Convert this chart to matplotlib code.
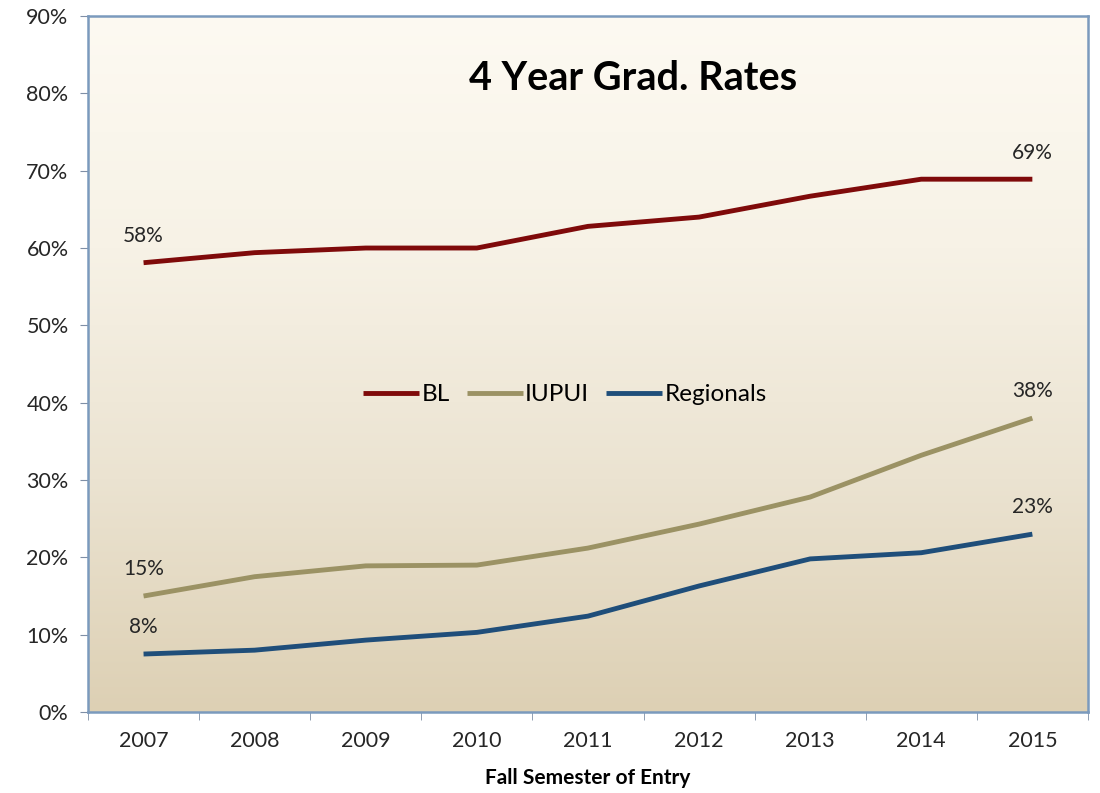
import matplotlib
matplotlib.use("Agg")
import matplotlib.pyplot as plt
import numpy as np
from matplotlib.colors import LinearSegmentedColormap

years = ["2007", "2008", "2009", "2010", "2011", "2012", "2013", "2014", "2015"]
bl = [58.1, 59.4, 60.0, 60.0, 62.8, 64.0, 66.7, 68.9, 68.9]
iupui = [15.0, 17.5, 18.9, 19.0, 21.2, 24.3, 27.8, 33.2, 38.0]
regionals = [7.5, 8.0, 9.3, 10.3, 12.4, 16.3, 19.8, 20.6, 23.0]
series_names = ["BL", "IUPUI", "Regionals"]
colors = ["#7f0a0a", "#9b9264", "#1f4e7a"]

plt.rcParams['font.family'] = ['Lato', 'DejaVu Sans']

fig = plt.figure(figsize=(11, 7.93), dpi=100)
ax = fig.add_axes([0.08, 0.1021, 0.909, 0.8777])

# gradient background
cmap = LinearSegmentedColormap.from_list("bg", ["#ddd0b4", "#ebe3d1", "#f7f2e6", "#fdfaf2"])
grad = np.linspace(0, 1, 256).reshape(-1, 1)
ax.imshow(grad, cmap=cmap, aspect="auto", extent=[0, 1, 0, 1],
          transform=ax.transAxes, origin="lower", zorder=0)

x = np.arange(len(years))
for vals, name, c in zip([bl, iupui, regionals], series_names, colors):
    ax.plot(x, vals, color=c, lw=3.5, label=name, zorder=3, solid_capstyle="butt")
    for i in (0, len(vals) - 1):
        ax.annotate(f"{round(vals[i]):.0f}%", (x[i], vals[i]), xytext=(0, 12),
                    textcoords="offset points", ha="center", va="bottom",
                    fontsize=15, color="#262626", zorder=4)

ax.set_xlim(-0.5, len(years) - 0.5)
ax.set_ylim(0, 90)
ax.set_yticks(np.arange(0, 91, 10))
ax.set_yticklabels([f"{v}%" for v in range(0, 91, 10)])
ax.set_xticks(x)
ax.set_xticklabels(years)
ax.set_xticks(np.arange(-0.5, len(years), 1), minor=True)
ax.tick_params(axis="x", which="major", length=0, pad=14, labelsize=15.5, colors="#262626")
ax.tick_params(axis="x", which="minor", length=6, color="#7f8fa6", direction="out")
ax.tick_params(axis="y", length=6, color="#7f8fa6", direction="out", labelsize=15.5,
               colors="#262626", pad=8)
for tl in ax.get_yticklabels() + ax.get_xticklabels():
    tl.set_color("#262626")

for s in ax.spines.values():
    s.set_color("#7b9abd")
    s.set_linewidth(1.8)

ax.set_xlabel("Fall Semester of Entry", fontsize=15, fontweight="bold", labelpad=12)
ax.text(0.545, 0.91, "4 Year Grad. Rates", transform=ax.transAxes, ha="center",
        va="center", fontsize=28.5, fontweight="bold", color="black")

leg = ax.legend(loc="center", bbox_to_anchor=(0.477, 0.456), ncol=3, frameon=False,
                fontsize=17.5, handlelength=2.3, handletextpad=0.1, columnspacing=0.7)

fig.savefig("out.png", dpi=100)
